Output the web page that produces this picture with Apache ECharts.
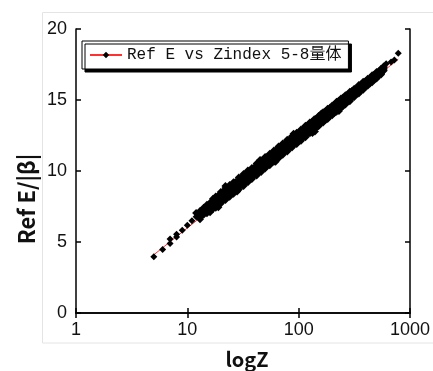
<!DOCTYPE html>
<html>
<head>
<meta charset="utf-8">
<script src="https://cdn.jsdelivr.net/npm/echarts@6/dist/echarts.min.js"></script>
<style>
html,body{margin:0;padding:0;background:#fff;}
#chart{width:433px;height:371px;}
</style>
</head>
<body>
<div id="chart"></div>
<script>
// ---- data ----
var seriesName = 'Ref E vs Zindex 5-8量体';
var xTitle = 'logZ';
var yTitle = 'Ref E/|β|';

// dense band, set 1: Z values and five rows of Ref E/|β| values across the band
var zDense = [13,14,15,17,18,20,22,24,26,29,32,35,38,42,46,50,55,60,66,72,79,87,96,105,115,126,138,151,166,182,200,219,240,263,288,316,347,380,417,457,501,550,580];
var refTop = [7.18,7.42,7.62,8.05,8.20,8.52,8.80,9.02,9.20,9.55,9.78,10.04,10.22,10.52,10.74,10.98,11.21,11.45,11.72,11.93,12.20,12.44,12.70,12.93,13.18,13.42,13.65,13.88,14.14,14.38,14.62,14.87,15.10,15.34,15.58,15.80,16.05,16.28,16.50,16.75,16.97,17.20,17.36];
var refUpper = [7.06,7.29,7.49,7.86,8.03,8.31,8.57,8.80,9.02,9.31,9.57,9.81,10.03,10.30,10.54,10.77,11.02,11.25,11.51,11.74,11.99,12.25,12.51,12.75,13.00,13.24,13.47,13.71,13.96,14.20,14.45,14.70,14.93,15.18,15.42,15.65,15.90,16.13,16.37,16.62,16.85,17.09,17.28];
var refMid = [6.96,7.16,7.34,7.68,7.83,8.11,8.37,8.60,8.82,9.11,9.37,9.61,9.83,10.10,10.34,10.57,10.82,11.05,11.31,11.54,11.79,12.05,12.31,12.55,12.80,13.04,13.28,13.52,13.78,14.02,14.27,14.52,14.76,15.01,15.25,15.50,15.75,15.99,16.24,16.49,16.73,16.98,17.20];
var refLower = [6.86,7.03,7.19,7.50,7.63,7.91,8.17,8.40,8.62,8.91,9.17,9.41,9.63,9.90,10.14,10.37,10.62,10.85,11.11,11.34,11.59,11.85,12.11,12.35,12.60,12.84,13.09,13.33,13.60,13.84,14.09,14.34,14.59,14.84,15.08,15.35,15.60,15.85,16.11,16.36,16.61,16.87,17.12];
var refBottom = [6.74,6.92,7.02,7.32,7.41,7.72,7.95,8.18,8.40,8.70,8.95,9.20,9.44,9.68,9.93,10.17,10.40,10.66,10.90,11.15,11.37,11.66,11.90,12.13,12.38,12.66,12.90,13.15,13.42,13.67,13.92,14.18,14.43,14.68,14.92,15.21,15.46,15.72,16.00,16.25,16.52,16.79,17.06];

// dense band, set 2: in-between Z values, four rows
var zDense2 = [16,19,21,23,25,27,31,33,36,40,44,48,52,57,63,69,75,83,91,100,110,120,132,144,158,174,191,209,229,251,275,301,331,363,398,437,479,525];
var refA = [7.76,8.28,8.54,8.79,9.01,9.22,9.59,9.76,9.99,10.27,10.52,10.76,10.97,11.22,11.48,11.73,11.95,12.22,12.47,12.72,12.97,13.21,13.46,13.69,13.95,14.20,14.45,14.69,14.94,15.18,15.39,15.61,15.85,16.10,16.32,16.55,16.79,17.02];
var refB = [7.60,8.08,8.34,8.59,8.81,9.02,9.39,9.56,9.79,10.07,10.32,10.56,10.77,11.02,11.28,11.53,11.75,12.02,12.27,12.52,12.77,13.01,13.26,13.49,13.75,14.00,14.25,14.49,14.74,14.98,15.22,15.45,15.70,15.95,16.19,16.42,16.67,16.91];
var refC = [7.44,7.88,8.14,8.39,8.61,8.82,9.19,9.36,9.59,9.87,10.12,10.36,10.57,10.82,11.08,11.33,11.55,11.82,12.07,12.32,12.57,12.81,13.06,13.29,13.55,13.80,14.05,14.29,14.54,14.78,15.04,15.29,15.54,15.79,16.05,16.30,16.55,16.81];
var refD = [7.28,7.68,7.94,8.19,8.41,8.62,8.99,9.16,9.39,9.67,9.92,10.16,10.37,10.62,10.88,11.13,11.35,11.62,11.87,12.12,12.37,12.61,12.86,13.09,13.35,13.60,13.85,14.09,14.34,14.58,14.87,15.13,15.40,15.65,15.92,16.17,16.43,16.70];

// stray points on the edges of the band
var zStray = [12,13,16,19,22,28,34,45,62,90,133,140,160,230,300];
var refStray = [7.05,6.60,7.10,7.45,8.95,8.55,9.80,10.78,10.65,12.62,12.68,12.78,14.05,14.22,15.62];

// isolated points at both ends
var zSparse = [5,6,7,7,8,8,9,10,11,12,611,676,724,785];
var refSparse = [3.97,4.47,4.90,5.22,5.35,5.55,5.83,6.18,6.50,6.77,17.56,17.67,17.82,18.30];

// red trend line end points
var zTrend = [5, 785];
var refTrend = [4.10, 17.87];

// ---- build ----
var pts = [];
function addRows(zs, rows) {
  for (var r = 0; r < rows.length; r++) {
    for (var i = 0; i < zs.length; i++) pts.push([zs[i], rows[r][i]]);
  }
}
addRows(zDense, [refTop, refUpper, refMid, refLower, refBottom]);
addRows(zDense2, [refA, refB, refC, refD]);
addRows(zStray, [refStray]);
var sparsePts = [];
for (var j = 0; j < zSparse.length; j++) sparsePts.push([zSparse[j], refSparse[j]]);
var trend = [];
for (var k = 0; k < zTrend.length; k++) trend.push([zTrend[k], refTrend[k]]);

var chart = echarts.init(document.getElementById('chart'), null, {renderer: 'canvas'});
var tickStyle = {inside: true, length: 5, lineStyle: {color: '#000', width: 1.5}};
var lineStyle = {show: true, lineStyle: {color: '#000', width: 1.5}};
var labelFont = {fontFamily: 'Liberation Sans', fontSize: 18, color: '#111'};

chart.setOption({
  animation: false,
  backgroundColor: '#fff',
  grid: {left: 76, right: 17, top: 29, bottom: 58, containLabel: false},
  graphic: [
    {type: 'rect', z: -10, silent: true, shape: {x: 42.5, y: 12.5, width: 420, height: 330.5},
     style: {fill: 'none', stroke: '#e4e4e4', lineWidth: 1}},
    {type: 'text', x: 27, y: 199, rotation: Math.PI / 2, silent: true,
     style: {text: yTitle, x: 0, y: 0, align: 'center', verticalAlign: 'middle',
             font: 'bold 22px "Noto Sans CJK JP"', fill: '#111'}},
    {type: 'text', x: 247, y: 359, silent: true,
     style: {text: xTitle, x: 0, y: 0, align: 'center', verticalAlign: 'middle',
             font: 'bold 20px "Noto Sans CJK JP"', fill: '#111'}}
  ],
  legend: {
    show: true,
    data: [seriesName],
    left: 82, top: 41,
    orient: 'horizontal',
    padding: [6, 7, 6, 7],
    itemWidth: 32, itemHeight: 8,
    backgroundColor: '#fff',
    borderColor: '#000', borderWidth: 1,
    shadowColor: '#000', shadowBlur: 0, shadowOffsetX: 3, shadowOffsetY: 3,
    textStyle: {fontFamily: '"Liberation Mono", "Noto Sans CJK JP", monospace', fontSize: 16, color: '#111'}
  },
  xAxis: [
    {type: 'log', logBase: 10, min: 1, max: 1000, position: 'bottom',
     axisLine: lineStyle, axisTick: tickStyle, minorTick: {show: false}, splitLine: {show: false},
     axisLabel: Object.assign({margin: 8, formatter: function (v) { return String(Math.round(v)); }}, labelFont)},
    {type: 'log', logBase: 10, min: 1, max: 1000, position: 'top',
     axisLine: lineStyle, axisTick: tickStyle, splitLine: {show: false}, axisLabel: {show: false}}
  ],
  yAxis: [
    {type: 'value', min: 0, max: 20, interval: 5, position: 'left',
     axisLine: lineStyle, axisTick: tickStyle, splitLine: {show: false},
     axisLabel: Object.assign({margin: 9, padding: [0, 0, 6, 0]}, labelFont)},
    {type: 'value', min: 0, max: 20, interval: 5, position: 'right',
     axisLine: lineStyle, axisTick: tickStyle, splitLine: {show: false}, axisLabel: {show: false}}
  ],
  series: [
    {name: seriesName, type: 'line', data: trend, showSymbol: false, symbol: 'diamond', symbolSize: 7,
     itemStyle: {color: '#000'}, lineStyle: {color: '#ff3030', width: 1}, z: 2, silent: true},
    {name: 'band', type: 'scatter', data: pts, symbol: 'diamond', symbolSize: 8,
     itemStyle: {color: '#000', opacity: 1}, z: 3, silent: true},
    {name: 'ends', type: 'scatter', data: sparsePts, symbol: 'diamond', symbolSize: 7,
     itemStyle: {color: '#000', opacity: 1}, z: 3, silent: true}
  ]
});
</script>
</body>
</html>
